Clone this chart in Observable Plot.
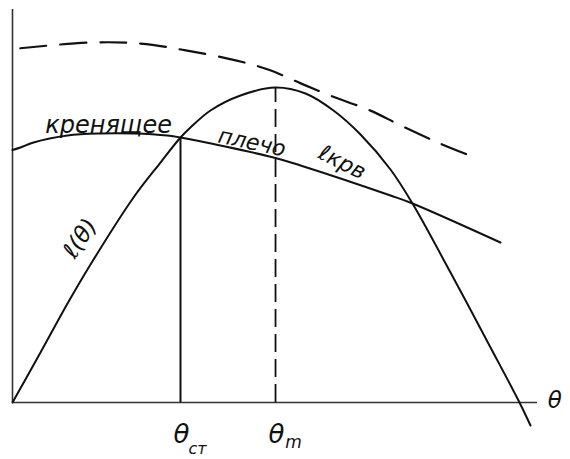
<!DOCTYPE html>
<html>
<head>
<meta charset="utf-8">
<script src="https://cdn.jsdelivr.net/npm/d3@7"></script>
<script src="https://cdn.jsdelivr.net/npm/@observablehq/plot@0.6"></script>
<style>
  html, body { margin: 0; padding: 0; background: #fff; }
  #chart svg { display: block; }
</style>
</head>
<body>
<div id="chart"></div>
<script>
// Static stability diagram: righting arm l(θ), heeling arm l_кр and its envelope.
// Heel angle θ (arbitrary units) and arm values (arbitrary units).
const rightingTheta = [0, 5.33, 10.48, 14.86, 23.05, 28.19, 32.0, 33.9, 37.71, 43.43, 50.1, 55.81, 61.14, 66.29, 72.0, 76.19, 83.43, 91.05, 96.38, 98.67];
const rightingArm   = [0, 9.54, 18.89, 26.34, 39.12, 45.8, 50.57, 52.48, 55.73, 58.59, 60.11, 58.97, 55.73, 51.15, 44.47, 37.98, 24.81, 10.5, 0.38, -4.39];

const heelingTheta = [0, 1.52, 4.0, 10.48, 16.76, 23.05, 29.52, 32.0, 49.71, 54.86, 72.0, 76.19, 92.95];
const heelingArm   = [48.19, 48.66, 49.62, 50.95, 51.34, 51.34, 50.95, 50.57, 46.76, 45.23, 39.5, 37.98, 30.53];

const envelopeTheta = [1.5, 14.9, 24.4, 33.0, 42.5, 49.1, 54.9, 61.5, 68.2, 73.9, 81.5, 87.2];
const envelopeArm   = [67.6, 68.7, 68.5, 67.2, 65.3, 63.4, 60.9, 58.2, 55.7, 52.9, 49.4, 47.1];

// Characteristic angles: static heel and angle of maximum righting arm
const thetaStatic = 32.0;
const thetaMax = 50.1;
const armAtStatic = 50.57;
const armAtMax = 60.11;

const axisLabel = "θ";
const tickLabels = ["θ", "θ"];
const tickSubs = ["ст", "m"];
const curveLabels = ["кренящее", "плечо", "ℓкрв", "ℓ(θ)"];

const zip = (xs, ys) => xs.map((x, i) => ({x, y: ys[i]}));
const righting = zip(rightingTheta, rightingArm);
const heeling = zip(heelingTheta, heelingArm);
const envelope = zip(envelopeTheta, envelopeArm);

const font = "DejaVu Sans, sans-serif";
const hand = {fontStyle: "italic", fontWeight: "normal", fill: "#111"};

const chart = Plot.plot({
  width: 570,
  height: 459,
  x: {domain: [0, 100], range: [12, 537], axis: null},
  y: {domain: [0, 75], range: [402, 9], axis: null},
  style: {background: "#fff", color: "#000", fontFamily: font},
  marks: [
    // axes
    Plot.ruleY([0], {x1: 0, x2: 100, stroke: "#333", strokeWidth: 1.6}),
    Plot.ruleX([0], {y1: 0, y2: 75, stroke: "#333", strokeWidth: 1.6}),
    // ordinates at θст and θm
    Plot.ruleX([thetaStatic], {y1: 0, y2: armAtStatic, stroke: "#111", strokeWidth: 2}),
    Plot.ruleX([thetaMax], {y1: 0, y2: armAtMax, stroke: "#111", strokeWidth: 1.8, strokeDasharray: "18,7"}),
    // curves
    Plot.line(envelope, {x: "x", y: "y", curve: "catmull-rom", stroke: "#111", strokeWidth: 2.2, strokeDasharray: "26,14"}),
    Plot.line(heeling, {x: "x", y: "y", curve: "catmull-rom", stroke: "#111", strokeWidth: 2}),
    Plot.line(righting, {x: "x", y: "y", curve: "catmull-rom", stroke: "#111", strokeWidth: 2}),
    // curve labels
    Plot.text([curveLabels[0]], {x: 18.3, y: 52.9, text: d => d, fontSize: 24, ...hand}),
    Plot.text([curveLabels[1]], {x: 45.6, y: 49.6, text: d => d, rotate: 12, fontSize: 22, ...hand}),
    Plot.text([curveLabels[2]], {x: 62.8, y: 45.8, text: d => d, rotate: 27, fontSize: 22, ...hand}),
    Plot.text([curveLabels[3]], {x: 12.9, y: 31.3, text: d => d, rotate: -56, fontSize: 23, ...hand}),
    // axis and angle labels
    Plot.text([axisLabel], {x: 103.3, y: 0.4, text: d => d, fontSize: 23, ...hand}),
    Plot.text([thetaStatic, thetaMax], {x: d => d, y: -6.1, dx: 1, text: (d, i) => tickLabels[i], fontSize: 26, ...hand}),
    Plot.text([thetaStatic], {x: d => d, y: -8.8, dx: 17, text: () => tickSubs[0], fontSize: 16, ...hand}),
    Plot.text([thetaMax], {x: d => d, y: -7.6, dx: 18, text: () => tickSubs[1], fontSize: 17, ...hand})
  ]
});

document.getElementById("chart").appendChild(chart);
</script>
</body>
</html>
